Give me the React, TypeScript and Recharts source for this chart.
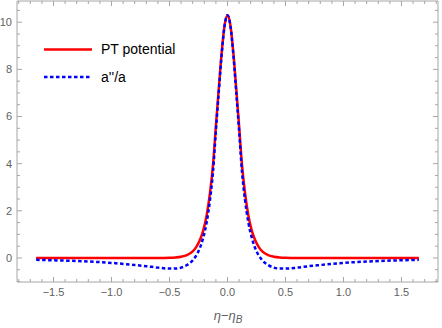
import React from "react";
import { LineChart, Line, XAxis, YAxis } from "recharts";

const xs = [
  -1.65, -1.5, -1.25, -1.0, -0.8, -0.7, -0.6, -0.5, -0.45, -0.4, -0.35, -0.3, -0.27, -0.24, -0.21, -0.18, -0.15,
  -0.125, -0.1, -0.075, -0.05, -0.025, 0, 0.025, 0.05, 0.075, 0.1, 0.125, 0.15, 0.18, 0.21, 0.24, 0.27, 0.3, 0.35,
  0.4, 0.45, 0.5, 0.6, 0.7, 0.8, 1.0, 1.25, 1.5, 1.65,
];
const ptPotential = [
  0, 0, 0, 0, 0, 0.001, 0.002, 0.01, 0.023, 0.054, 0.12, 0.28, 0.46, 0.74, 1.15, 1.8, 2.8, 3.95, 5.6, 7.2, 8.72,
  9.87, 10.3, 9.87, 8.72, 7.2, 5.6, 3.95, 2.8, 1.8, 1.15, 0.74, 0.46, 0.28, 0.12, 0.054, 0.023, 0.01, 0.002, 0.001,
  0, 0, 0, 0, 0,
];
const aPPoverA = [
  -0.08, -0.1, -0.14, -0.21, -0.3, -0.35, -0.41, -0.45, -0.45, -0.41, -0.3, -0.1, 0.1, 0.4, 0.85, 1.5, 2.5, 3.65,
  5.4, 7.05, 8.65, 9.85, 10.3, 9.85, 8.65, 7.05, 5.4, 3.65, 2.5, 1.5, 0.85, 0.4, 0.1, -0.1, -0.3, -0.41, -0.45,
  -0.45, -0.41, -0.35, -0.3, -0.21, -0.14, -0.1, -0.08,
];
const xTicks = [
  -1.8, -1.7, -1.6, -1.5, -1.4, -1.3, -1.2, -1.1, -1.0, -0.9, -0.8, -0.7, -0.6, -0.5, -0.4, -0.3, -0.2, -0.1, 0,
  0.1, 0.2, 0.3, 0.4, 0.5, 0.6, 0.7, 0.8, 0.9, 1.0, 1.1, 1.2, 1.3, 1.4, 1.5, 1.6, 1.7, 1.8,
];
const yTicks = [-1, -0.5, 0, 0.5, 1, 1.5, 2, 2.5, 3, 3.5, 4, 4.5, 5, 5.5, 6, 6.5, 7, 7.5, 8, 8.5, 9, 9.5, 10, 10.5];
const seriesNames = ["PT potential", "a''/a"];

const data = xs.map((x, i) => ({ x, pt: ptPotential[i], app: aPPoverA[i] }));

const FRAME = "#a6a6a6";
const LABEL = "#5f5f5f";
const FONT = "'Liberation Sans', Arial, sans-serif";
const TM = 6;
const YM = 5;

const fmtX = (v: number) => v.toFixed(1).replace("-", "\u2212");
const isMajorX = (v: number) => Math.abs(Math.round(v * 10)) % 5 === 0;
const isMajorY = (v: number) => Math.abs(Math.round(v * 2)) % 4 === 0;

const BottomTick = (props: any) => {
  const { x, y, payload } = props;
  const v = payload.value as number;
  const major = isMajorX(v);
  const ay = y - TM;
  return (
    <g>
      <line x1={x} x2={x} y1={ay} y2={ay - (major ? 5 : 3)} stroke={FRAME} strokeWidth={1} />
      {major && Math.abs(v) < 1.75 && (
        <text x={x} y={y} dy="0.71em" textAnchor="middle" fill={LABEL} fontSize={11} fontFamily={FONT}>
          {fmtX(v)}
        </text>
      )}
    </g>
  );
};

const TopTick = (props: any) => {
  const { x, y, payload } = props;
  const v = payload.value as number;
  const major = isMajorX(v);
  const ay = y + TM;
  return <line x1={x} x2={x} y1={ay} y2={ay + (major ? 5 : 3)} stroke={FRAME} strokeWidth={1} />;
};

const LeftTick = (props: any) => {
  const { x, y, payload } = props;
  const v = payload.value as number;
  const major = isMajorY(v);
  const ax = x + YM;
  return (
    <g>
      <line x1={ax} x2={ax + (major ? 5 : 3)} y1={y} y2={y} stroke={FRAME} strokeWidth={1} />
      {major && (
        <text x={x} y={y} dy="0.355em" textAnchor="end" fill={LABEL} fontSize={11} fontFamily={FONT}>
          {String(v)}
        </text>
      )}
    </g>
  );
};

const RightTick = (props: any) => {
  const { x, y, payload } = props;
  const v = payload.value as number;
  const major = isMajorY(v);
  const ax = x - YM;
  return <line x1={ax} x2={ax - (major ? 5 : 3)} y1={y} y2={y} stroke={FRAME} strokeWidth={1} />;
};

export default function App() {
  return (
    <div style={{ position: "absolute", left: 0, top: 0, width: 442, height: 328, background: "#fff" }}>
      <LineChart width={442} height={328} data={data} margin={{ top: 0, right: 0, bottom: 0, left: 0 }}>
        <XAxis
          dataKey="x"
          type="number"
          domain={[-1.815, 1.815]}
          ticks={xTicks}
          interval={0}
          allowDataOverflow
          height={46}
          tickSize={0}
          tickMargin={TM}
          tickLine={false}
          axisLine={{ stroke: FRAME }}
          tick={<BottomTick />}
        />
        <XAxis
          xAxisId="top"
          orientation="top"
          dataKey="x"
          type="number"
          domain={[-1.815, 1.815]}
          ticks={xTicks}
          interval={0}
          allowDataOverflow
          height={1}
          tickSize={0}
          tickMargin={TM}
          tickLine={false}
          axisLine={{ stroke: FRAME }}
          tick={<TopTick />}
        />
        <YAxis
          type="number"
          domain={[-1.02, 10.9]}
          ticks={yTicks}
          interval={0}
          allowDataOverflow
          width={17}
          tickSize={0}
          tickMargin={YM}
          tickLine={false}
          axisLine={{ stroke: FRAME }}
          tick={<LeftTick />}
        />
        <YAxis
          yAxisId="right"
          orientation="right"
          type="number"
          domain={[-1.02, 10.9]}
          ticks={yTicks}
          interval={0}
          allowDataOverflow
          width={4}
          tickSize={0}
          tickMargin={YM}
          tickLine={false}
          axisLine={{ stroke: FRAME }}
          tick={<RightTick />}
        />
        <Line
          type="monotone"
          dataKey="pt"
          stroke="#ff0000"
          strokeWidth={2.5}
          dot={false}
          isAnimationActive={false}
        />
        <Line
          type="monotone"
          dataKey="app"
          stroke="#0000ff"
          strokeWidth={2.5}
          strokeDasharray="3.5 2.5"
          dot={false}
          isAnimationActive={false}
        />
      </LineChart>
      <svg
        width={160}
        height={50}
        style={{ position: "absolute", left: 40, top: 37, overflow: "visible" }}
      >
        <line x1={4} x2={52} y1={12.5} y2={12.5} stroke="#ff0000" strokeWidth={2.5} />
        <text x={61} y={12.5} dy="0.355em" fontSize={14} fontFamily={FONT} fill="#000">
          {seriesNames[0]}
        </text>
        <line x1={4} x2={52} y1={40} y2={40} stroke="#0000ff" strokeWidth={2.5} strokeDasharray="3.5 2.5" />
        <text x={61} y={40} dy="0.355em" fontSize={14} fontFamily={FONT} fill="#000">
          {seriesNames[1]}
        </text>
      </svg>
      <div
        style={{
          position: "absolute",
          left: 178,
          width: 100,
          top: 308,
          textAlign: "center",
          fontFamily: FONT,
          fontStyle: "italic",
          fontSize: 13,
          color: LABEL,
          lineHeight: "16px",
        }}
      >
        η−η<sub style={{ fontSize: 10, verticalAlign: "-3px" }}>B</sub>
      </div>
    </div>
  );
}
